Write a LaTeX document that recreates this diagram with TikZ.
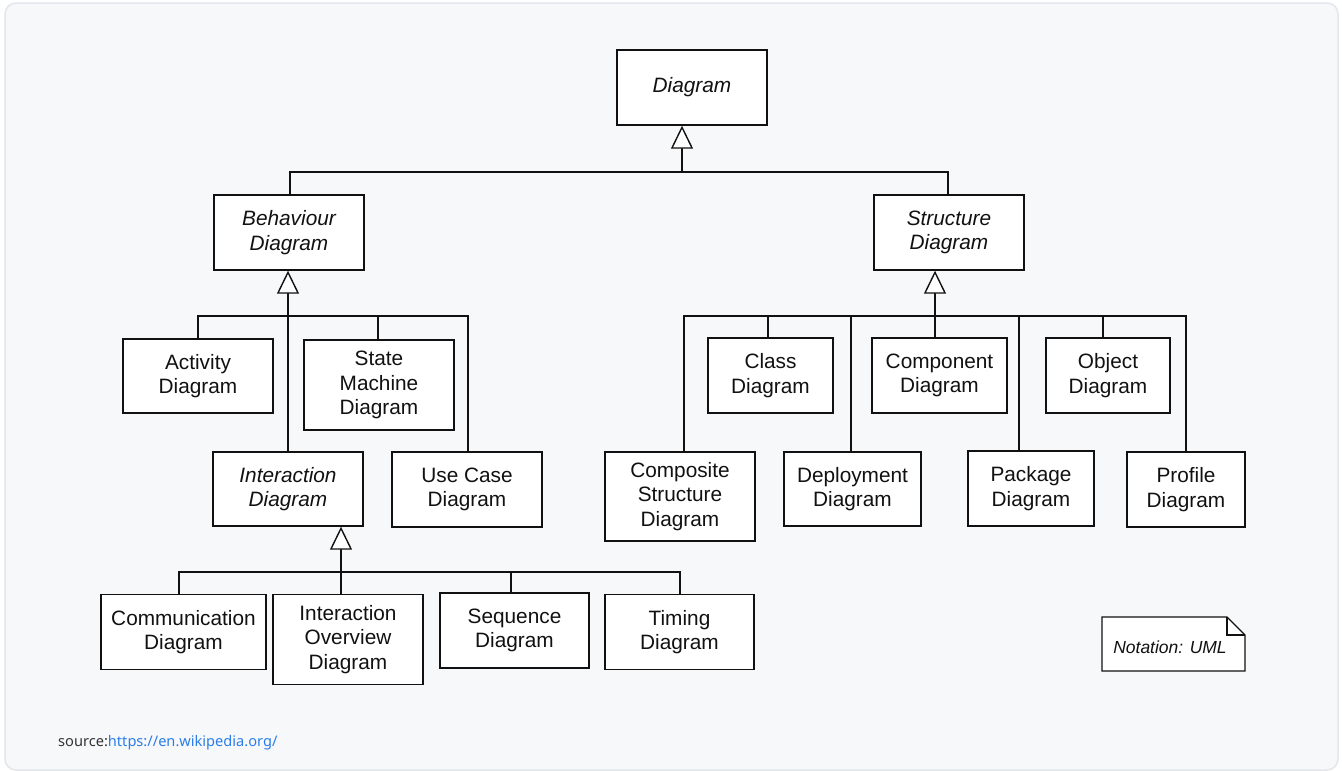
\documentclass[tikz,border=0pt]{standalone}
\usepackage{fontspec}
\setmainfont{Liberation Sans}
\newfontfamily\notosans{Noto Sans}
\usetikzlibrary{arrows.meta}
\definecolor{cardbg}{HTML}{F7F8FA}
\definecolor{cardln}{HTML}{E3E6EA}
\definecolor{inkc}{HTML}{111111}
\definecolor{linkc}{HTML}{2B7DE9}
\definecolor{srcc}{HTML}{333333}
\tikzset{
  umlbox/.style={draw=inkc, fill=white, line width=1.4pt, inner sep=0pt,
    align=center, text=inkc, font=\fontsize{20.8}{24.5}\selectfont},
  absbox/.style={umlbox, font=\fontsize{20.8}{24.5}\selectfont\itshape},
  conn/.style={draw=inkc, line width=1.4pt},
  gen/.style={conn, -{Triangle[length=23pt, width=22pt, fill=white]}},
}
\begin{document}
\begin{tikzpicture}[x=1pt, y=-1pt]
\useasboundingbox (0,0) rectangle (1342,771);
\fill[white] (0,0) rectangle (1342,771);
\draw[cardln, fill=cardbg, line width=1.5pt, rounded corners=11pt] (5,3) rectangle (1338,770);

% nodes
\node[absbox, minimum width=150pt, minimum height=75pt] (dia) at (692,87.5) {Diagram};
\node[absbox, minimum width=150pt, minimum height=75pt] (beh) at (289,232.5) {Behaviour\\Diagram};
\node[absbox, minimum width=150pt, minimum height=75pt] (str) at (949,232.5) {Structure\\Diagram};

\node[umlbox, minimum width=150pt, minimum height=74pt] (act) at (198,376) {Activity\\Diagram};
\node[umlbox, minimum width=150pt, minimum height=90pt] (stm) at (379,385) {State\\Machine\\Diagram};
\node[absbox, minimum width=150pt, minimum height=74pt] (int) at (288,489) {Interaction\\Diagram};
\node[umlbox, minimum width=150pt, minimum height=75pt] (usc) at (467,489.5) {Use Case\\Diagram};

\node[umlbox, minimum width=165pt, minimum height=75pt] (com) at (183.5,632) {Communication\\Diagram};
\node[umlbox, minimum width=150pt, minimum height=90pt] (iov) at (348,639.5) {Interaction\\Overview\\Diagram};
\node[umlbox, minimum width=149pt, minimum height=75pt] (seq) at (514.5,630.5) {Sequence\\Diagram};
\node[umlbox, minimum width=149pt, minimum height=75pt] (tim) at (679.5,632) {Timing\\Diagram};

\node[umlbox, minimum width=150pt, minimum height=89pt] (cps) at (680,496.5) {Composite\\Structure\\Diagram};
\node[umlbox, minimum width=125pt, minimum height=75pt] (cls) at (770.5,375.5) {Class\\Diagram};
\node[umlbox, minimum width=137pt, minimum height=74pt] (dep) at (852.5,489) {Deployment\\Diagram};
\node[umlbox, minimum width=135pt, minimum height=75pt] (cmp) at (939.5,375.5) {Component\\Diagram};
\node[umlbox, minimum width=126pt, minimum height=75pt] (pkg) at (1031,488.5) {Package\\Diagram};
\node[umlbox, minimum width=124pt, minimum height=75pt] (obj) at (1108,375.5) {Object\\Diagram};
\node[umlbox, minimum width=118pt, minimum height=75pt] (pro) at (1186,489.5) {Profile\\Diagram};

% bus points
\coordinate (t0) at (682,172);
\coordinate (t1) at (290,172);
\coordinate (t2) at (948,172);

\coordinate (b0) at (288,316);
\coordinate (b1) at (198,316);
\coordinate (b2) at (378,316);
\coordinate (b3) at (468,316);

\coordinate (i0) at (341,572);
\coordinate (i1) at (179,572);
\coordinate (i2) at (511,572);
\coordinate (i3) at (680,572);

\coordinate (s0) at (935,316);
\coordinate (s1) at (684,316);
\coordinate (s2) at (768,316);
\coordinate (s3) at (851,316);
\coordinate (s4) at (1019,316);
\coordinate (s5) at (1103,316);
\coordinate (s6) at (1186,316);

% top level
\draw[conn] (beh.north -| t1) -- (t1) -- (t2) -- (str.north -| t2);
\draw[gen] (t0) -- (dia.south -| t0);

% behaviour
\draw[conn] (act.north -| b1) -- (b1) -- (b3) -- (usc.north -| b3);
\draw[conn] (b2) -- (stm.north -| b2);
\draw[gen] (int.north -| b0) -- (beh.south -| b0);

% interaction
\draw[conn] (com.north -| i1) -- (i1) -- (i3) -- (tim.north -| i3);
\draw[conn] (i2) -- (seq.north -| i2);
\draw[gen] (iov.north -| i0) -- (int.south -| i0);

% structure
\draw[conn] (cps.north -| s1) -- (s1) -- (s6) -- (pro.north -| s6);
\draw[conn] (s2) -- (cls.north -| s2);
\draw[conn] (s3) -- (dep.north -| s3);
\draw[conn] (s4) -- (pkg.north -| s4);
\draw[conn] (s5) -- (obj.north -| s5);
\draw[gen] (cmp.north -| s0) -- (str.south -| s0);

% note
\coordinate (nA) at (1102,617);
\coordinate (nB) at (1227,617);
\coordinate (nC) at (1245,635);
\coordinate (nD) at (1245,671);
\coordinate (nE) at (1102,671);
\draw[conn, fill=white] (nA) -- (nB) -- (nC) -- (nD) -- (nE) -- cycle;
\draw[conn] (nB) -- (nB |- nC) -- (nC);
\node[font=\fontsize{17.5}{20}\selectfont\itshape, text=inkc] (note) at (1170,647) {Notation: UML};

% source
\node[anchor=base west, inner sep=0pt, font=\notosans\fontsize{14.6}{17}\selectfont] (src) at (58,746)
  {\textcolor{srcc}{source:}\textcolor{linkc}{https://en.wikipedia.org/}};
\end{tikzpicture}
\end{document}
